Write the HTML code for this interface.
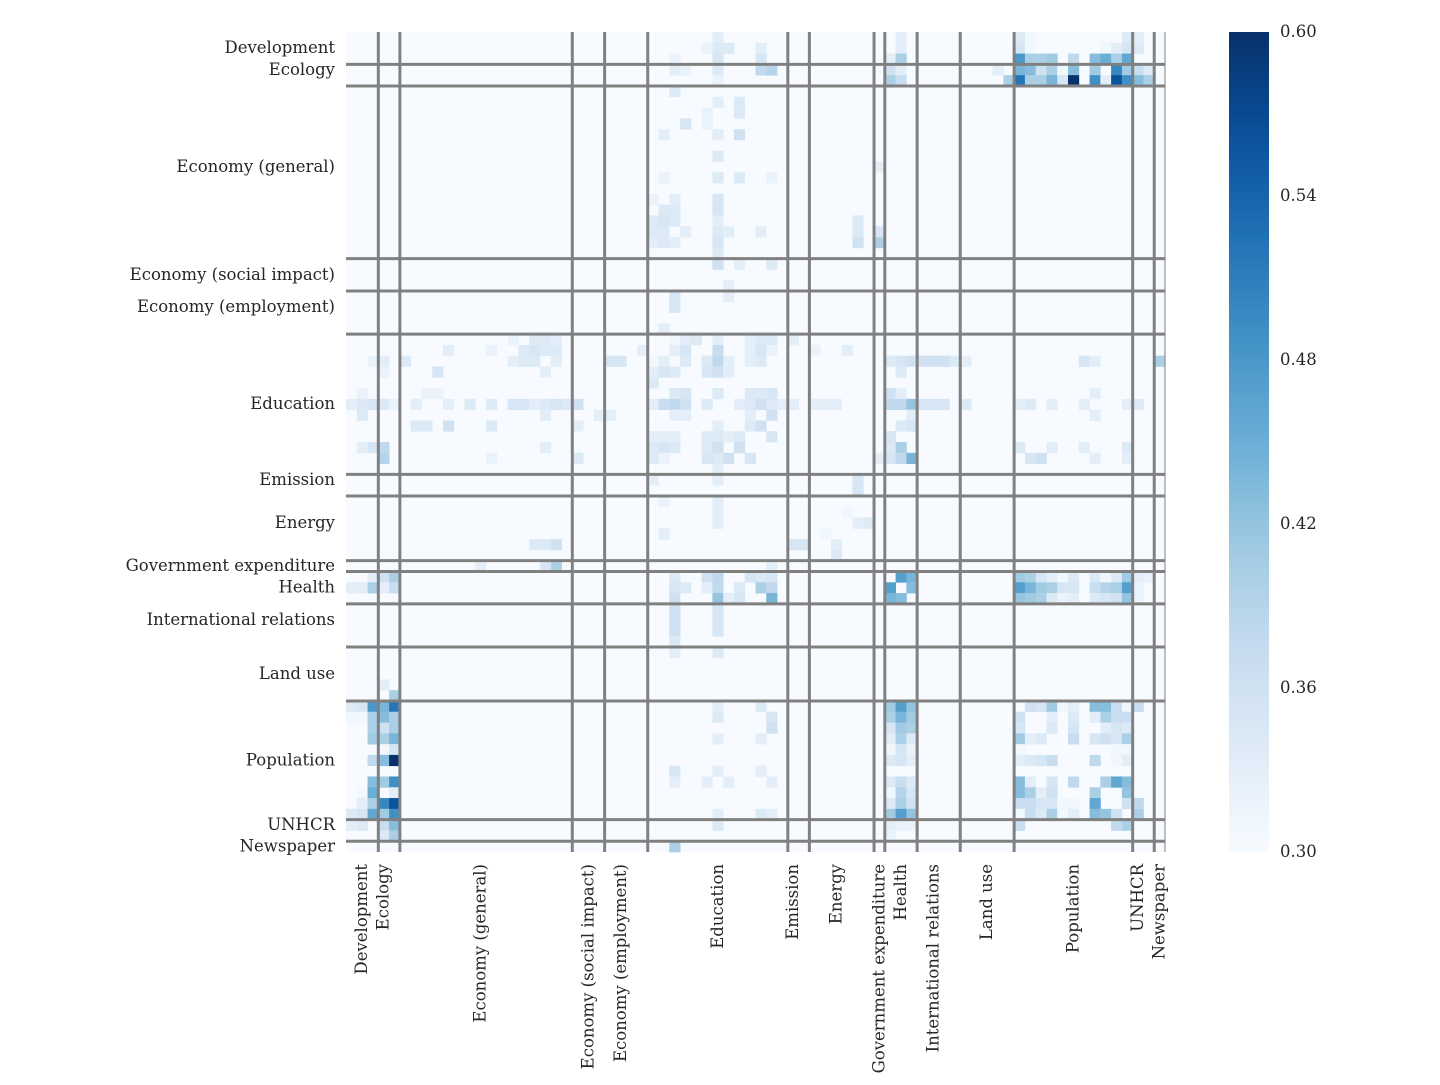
<!DOCTYPE html>
<html><head><meta charset="utf-8"><style>
body{margin:0;background:#fff}
svg text{font-family:"DejaVu Serif","Liberation Serif",serif;font-size:16.5px;fill:#262626}
</style></head><body>
<svg id="chart" width="1440" height="1080" xmlns="http://www.w3.org/2000/svg"></svg>
<script>
const groupNames=["Development","Ecology","Economy (general)","Economy (social impact)","Economy (employment)","Education","Emission","Energy","Government expenditure","Health","International relations","Land use","Population","UNHCR","Newspaper"];
const groupSizes=[3,2,16,3,4,13,2,6,1,3,4,5,11,2,1];
const colorTicks=[0.30,0.36,0.42,0.48,0.54,0.60];
const vmin=0.30, vmax=0.60;
// sparse symmetric entries [row, col, value]
const cells=[
[62,0,.34],[62,1,.35],[62,2,.48],[62,3,.44],[62,4,.52],
[63,0,.31],[63,1,.31],[63,2,.40],[63,3,.43],[63,4,.40],
[64,2,.40],[64,3,.36],[64,4,.40],[65,2,.41],[65,3,.40],[65,4,.44],
[66,3,.31],[66,4,.35],[67,2,.38],[67,3,.43],[67,4,.60],
[69,2,.43],[69,3,.41],[69,4,.49],[70,1,.31],[70,2,.45],[70,4,.33],
[71,1,.33],[71,2,.40],[71,3,.50],[71,4,.56],
[72,0,.34],[72,1,.35],[72,2,.46],[72,3,.41],[72,4,.49],
[73,0,.33],[73,1,.34],[73,3,.37],[73,4,.43],[74,3,.34],[74,4,.40],[61,4,.40],[60,3,.33],
[51,50,.47],[52,50,.44],[52,51,.43],
[50,2,.33],[50,3,.36],[50,4,.40],[51,0,.33],[51,1,.33],[51,2,.40],[51,3,.33],[51,4,.37],
[62,50,.41],[62,51,.47],[62,52,.42],[63,50,.40],[63,51,.44],[63,52,.41],
[64,50,.35],[64,51,.41],[64,52,.40],[65,50,.33],[65,51,.40],[65,52,.34],
[66,50,.31],[66,51,.35],[66,52,.32],[67,50,.34],[67,51,.35],[67,52,.33],
[69,50,.34],[69,51,.37],[69,52,.34],[70,50,.31],[70,51,.39],[70,52,.35],
[71,50,.34],[71,51,.40],[71,52,.36],[72,50,.41],[72,51,.47],[72,52,.42],
[73,50,.33],[73,51,.32],[73,52,.32],[74,50,.32],
[63,62,.36],[64,62,.35],[65,62,.41],[66,62,.31],[67,62,.33],[69,62,.43],[70,62,.43],[71,62,.37],[72,62,.31],[73,62,.37],
[65,63,.33],[67,63,.34],[69,63,.33],[70,63,.40],[71,63,.37],[72,63,.37],
[65,64,.34],[67,64,.35],[70,64,.33],[71,64,.35],[72,64,.34],
[67,65,.37],[69,65,.35],[70,65,.36],[71,65,.35],[72,65,.40],[71,66,.31],[72,66,.31],
[69,67,.38],[71,67,.31],[72,67,.33],[70,69,.40],[71,69,.46],[72,69,.43],[72,70,.42],[72,71,.36],[73,72,.40],[73,71,.38],
[28,15,.32],[28,17,.34],[28,19,.33],[28,30,.31],[28,31,.33],[28,32,.34],[28,34,.33],[28,37,.33],[28,41,.33],
[29,9,.33],[29,13,.32],[29,16,.34],[29,27,.33],[29,30,.33],[29,31,.35],[29,34,.37],[29,37,.33],[29,38,.35],[29,43,.32],
[30,2,.32],[30,3,.33],[30,5,.34],[30,15,.33],[30,16,.34],[30,17,.34],[30,24,.35],[30,25,.35],[30,28,.33],[30,33,.34],[30,34,.38],[30,35,.33],[30,37,.33],[30,50,.34],[30,51,.35],[30,52,.36],[30,53,.36],[30,54,.36],[30,55,.36],[30,56,.34],[30,57,.33],[30,68,.35],[30,69,.33],[30,75,.40],
[31,3,.32],[31,18,.33],[31,28,.36],[31,29,.36],[31,30,.34],[31,33,.35],[31,34,.36],[31,35,.33],[31,51,.34],
[33,1,.32],[33,7,.32],[33,8,.32],[33,30,.34],[33,34,.34],[33,37,.34],[33,38,.34],[33,50,.36],[33,51,.33],[33,69,.33],
[34,0,.33],[34,1,.34],[34,2,.35],[34,3,.34],[34,4,.32],[34,6,.33],[34,9,.33],[34,13,.34],[34,16,.35],[34,17,.33],[34,18,.34],[34,19,.35],[34,20,.34],[34,21,.36],[34,28,.36],[34,29,.36],[34,30,.36],[34,36,.33],[34,37,.34],[34,38,.36],[34,39,.34],[34,40,.33],[34,41,.33],[34,43,.33],[34,45,.33],[34,50,.38],[34,51,.38],[34,52,.42],[34,53,.35],[34,54,.35],[34,55,.35],[34,57,.34],[34,62,.33],[34,63,.34],[34,65,.33],[34,68,.33],[34,72,.33],[34,73,.34],
[35,1,.34],[35,18,.33],[35,23,.33],[35,24,.33],[35,37,.33],[35,52,.33],[35,69,.33],
[36,6,.34],[36,7,.34],[36,9,.36],[36,21,.33],[36,37,.34],[36,38,.36],[36,51,.34],[36,52,.35],
[38,1,.33],[38,2,.35],[38,3,.38],[38,18,.33],[38,28,.34],[38,29,.33],[38,30,.34],[38,36,.33],[38,50,.34],[38,51,.40],[38,62,.34],[38,65,.33],[38,68,.33],[38,72,.34],
[39,3,.39],[39,13,.32],[39,21,.34],[39,28,.34],[39,29,.32],[39,33,.35],[39,35,.36],[39,37,.35],[39,49,.33],[39,50,.35],[39,51,.38],[39,52,.44],[39,63,.35],[39,64,.36],[39,69,.33],[39,72,.33],
[19,49,.40],[18,49,.35],[12,49,.33],[17,29,.35],[18,29,.34],[19,29,.34],[19,30,.33],[8,31,.35],[11,34,.34],[13,36,.34],[15,34,.35],[16,34,.34],[17,34,.35],[17,28,.35],[18,28,.34],
[47,41,.35],[47,42,.35],[48,45,.34],[47,19,.36],[47,17,.34],[47,18,.34],[44,46,.31],[45,47,.33],
[51,34,.36],[52,34,.38],[50,37,.35],[52,39,.40],[44,34,.33],[46,29,.33]
];
const stops=[[0,[247,251,255]],[.125,[222,235,247]],[.25,[198,219,239]],[.375,[158,202,225]],[.5,[107,174,214]],[.625,[66,146,198]],[.75,[33,113,181]],[.875,[8,81,156]],[1,[8,48,107]]];
function cmap(v){let t=Math.max(0,Math.min(1,(v-vmin)/(vmax-vmin)));for(let i=1;i<stops.length;i++){if(t<=stops[i][0]){const a=stops[i-1],b=stops[i];const f=(t-a[0])/(b[0]-a[0]);return 'rgb('+a[1].map((c,j)=>Math.round(c+(b[1][j]-c)*f)).join(',')+')';}}return 'rgb(8,48,107)';}
const NS="http://www.w3.org/2000/svg",svg=document.getElementById('chart');
const N=groupSizes.reduce((a,b)=>a+b,0);
const X0=346,Y0=32,W=819,H=820,cw=W/N,ch=H/N;
const xPos=c=>X0+c*cw, yPos=r=>Y0+r*ch;
function el(t,a){const e=document.createElementNS(NS,t);for(const k in a)e.setAttribute(k,a[k]);svg.appendChild(e);return e;}
const bg=el('rect',{x:X0,y:Y0,width:W,height:H,fill:cmap(vmin)});


const seen={};
cells.forEach(([r,c,v])=>{[[r,c],[c,r]].forEach(([a,b])=>{const k=a+'_'+b;if(seen[k]||a===b)return;seen[k]=1;
const e=el('rect',{x:xPos(b),y:yPos(a),width:cw+0.4,height:ch+0.4,fill:cmap(v)});

});});
let acc=0;
groupNames.forEach((g,i)=>{const start=acc;acc+=groupSizes[i];const mid=start+Math.floor((groupSizes[i]-1)/2)+0.5;
const ly=el('text',{x:335,y:yPos(mid)+5,'text-anchor':'end'});ly.textContent=g;


const lx=el('text',{x:0,y:0,'text-anchor':'end',transform:'translate('+(xPos(mid)+5)+',864) rotate(-90)'});lx.textContent=g;


if(i<groupNames.length-1){
const v=el('line',{x1:xPos(acc),x2:xPos(acc),y1:Y0,y2:Y0+H,stroke:'#808080','stroke-width':3});


const h=el('line',{x1:X0,x2:X0+W,y1:yPos(acc),y2:yPos(acc),stroke:'#808080','stroke-width':3});

}});
const edge=el('line',{x1:X0+W,x2:X0+W,y1:Y0,y2:Y0+H,stroke:'#808080','stroke-width':1});


// colorbar
const CX=1229,CW=40;
const defs=el('defs',{});const lg=document.createElementNS(NS,'linearGradient');lg.setAttribute('id','cb');lg.setAttribute('x1','0');lg.setAttribute('y1','1');lg.setAttribute('x2','0');lg.setAttribute('y2','0');defs.appendChild(lg);
for(let i=0;i<=20;i++){const s=document.createElementNS(NS,'stop');s.setAttribute('offset',i/20);s.setAttribute('stop-color',cmap(vmin+(vmax-vmin)*i/20));lg.appendChild(s);}
const cb=el('rect',{x:CX,y:Y0,width:CW,height:H,fill:'url(#cb)'});


const cy=v=>Y0+H-(v-vmin)/(vmax-vmin)*H;
colorTicks.forEach(v=>{const t=el('text',{x:1280,y:cy(v)+5});t.textContent=v.toFixed(2);

});
</script>
</body></html>
